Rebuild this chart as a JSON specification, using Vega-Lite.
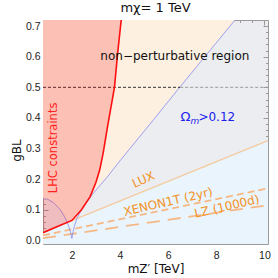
{
  "$schema": "https://vega.github.io/schema/vega-lite/v6.json",
  "width": 225,
  "height": 224,
  "autosize": {"type": "none"},
  "padding": {"left": 43, "top": 20, "right": 10, "bottom": 34},
  "background": "white",
  "title": {"text": "mχ= 1 TeV", "font": "DejaVu Sans", "fontSize": 13, "fontWeight": "normal", "color": "#111", "offset": 5, "anchor": "middle"},
  "config": {
    "view": {"stroke": "#9a9a9a", "fill": "#ebedf0"},
    "axis": {"grid": false, "labelFont": "Liberation Sans", "labelFontSize": 10.5, "labelColor": "#222", "titleFont": "DejaVu Sans", "titleFontSize": 12, "titleFontWeight": "normal", "titleColor": "#111", "tickColor": "#9a9a9a"}
  },
  "resolve": {"axis": {"x": "independent", "y": "independent"}},
  "datasets": {
    "omega": [
      {"x": 0.8, "y": 0.136}, {"x": 1.0, "y": 0.134}, {"x": 1.24, "y": 0.123}, {"x": 1.51, "y": 0.101},
      {"x": 1.72, "y": 0.074}, {"x": 1.86, "y": 0.048}, {"x": 1.95, "y": 0.025}, {"x": 2.0, "y": 0.006},
      {"x": 2.05, "y": 0.028}, {"x": 2.1, "y": 0.045}, {"x": 2.21, "y": 0.072}, {"x": 2.48, "y": 0.111},
      {"x": 2.9, "y": 0.155}, {"x": 3.45, "y": 0.205}, {"x": 4.0, "y": 0.26}, {"x": 5.39, "y": 0.394},
      {"x": 6.5, "y": 0.502}, {"x": 8.78, "y": 0.72}
    ],
    "lux": [{"x": 0.8, "y": 0.026}, {"x": 10.15, "y": 0.326}],
    "xenon": [{"x": 0.8, "y": 0.016}, {"x": 10.15, "y": 0.17}],
    "lz": [{"x": 0.8, "y": 0.007}, {"x": 10.15, "y": 0.115}],
    "lhc": [
      {"x": 0.8, "y": 0.025}, {"x": 1.4, "y": 0.045}, {"x": 2.0, "y": 0.065}, {"x": 2.4, "y": 0.1},
      {"x": 2.76, "y": 0.143}, {"x": 3.0, "y": 0.19}, {"x": 3.15, "y": 0.228}, {"x": 3.3, "y": 0.285},
      {"x": 3.5, "y": 0.38}, {"x": 3.77, "y": 0.5}, {"x": 3.9, "y": 0.61}, {"x": 4.05, "y": 0.72}
    ]
  },
  "layer": [
    {
      "data": {"name": "omega"},
      "mark": {"type": "area", "color": "#fdf0e1", "clip": true},
      "encoding": {
        "x": {"field": "x", "type": "quantitative", "scale": {"domain": [0.8, 10.15], "nice": false, "zero": false},
              "axis": {"orient": "bottom", "values": [2, 4, 6, 8, 10], "ticks": false, "domain": false, "labelPadding": 6, "title": "mZ′ [TeV]", "titlePadding": 3}},
        "y": {"field": "y", "type": "quantitative", "scale": {"domain": [-0.012, 0.72], "nice": false, "zero": false},
              "axis": {"orient": "left", "values": [0, 0.1, 0.2, 0.3, 0.4, 0.5, 0.6, 0.7], "format": ".1f", "ticks": false, "domain": false, "labelPadding": 3, "title": "gBL", "titlePadding": 2, "titleY": 130, "titleAlign": "center", "titleBaseline": "bottom"}},
        "y2": {"datum": 0.72}
      }
    },
    {
      "data": {"name": "lux"},
      "mark": {"type": "area", "color": "#eaf4fd", "clip": true},
      "encoding": {
        "x": {"field": "x", "type": "quantitative", "scale": {"domain": [0.8, 10.15], "nice": false, "zero": false},
              "axis": {"orient": "bottom", "values": [1, 1.5, 2, 2.5, 3, 3.5, 4, 4.5, 5, 5.5, 6, 6.5, 7, 7.5, 8, 8.5, 9, 9.5, 10], "labels": false, "domain": false, "title": null,
                       "tickSize": {"condition": {"test": "datum.value % 2 === 0", "value": -5}, "value": -2.5}}},
        "y": {"field": "y", "type": "quantitative", "scale": {"domain": [-0.012, 0.72], "nice": false, "zero": false},
              "axis": {"orient": "left", "values": [0, 0.02, 0.04, 0.06, 0.08, 0.1, 0.12, 0.14, 0.16, 0.18, 0.2, 0.22, 0.24, 0.26, 0.28, 0.3, 0.32, 0.34, 0.36, 0.38, 0.4, 0.42, 0.44, 0.46, 0.48, 0.5, 0.52, 0.54, 0.56, 0.58, 0.6, 0.62, 0.64, 0.66, 0.68, 0.7], "labels": false, "domain": false, "title": null,
                       "tickSize": {"condition": {"test": "abs(datum.value*10 - round(datum.value*10)) < 0.000001", "value": -5}, "value": -2.5}}},
        "y2": {"datum": -0.012}
      }
    },
    {
      "data": {"name": "lux"},
      "mark": {"type": "line", "color": "#f5c89a", "strokeWidth": 1.3, "clip": true},
      "encoding": {
        "x": {"field": "x", "type": "quantitative", "scale": {"domain": [0.8, 10.15], "nice": false, "zero": false},
              "axis": {"orient": "top", "values": [1, 1.5, 2, 2.5, 3, 3.5, 4, 4.5, 5, 5.5, 6, 6.5, 7, 7.5, 8, 8.5, 9, 9.5, 10], "labels": false, "domain": false, "title": null,
                       "tickSize": {"condition": {"test": "datum.value % 2 === 0", "value": -5}, "value": -2.5}}},
        "y": {"field": "y", "type": "quantitative", "scale": {"domain": [-0.012, 0.72], "nice": false, "zero": false},
              "axis": {"orient": "right", "values": [0, 0.02, 0.04, 0.06, 0.08, 0.1, 0.12, 0.14, 0.16, 0.18, 0.2, 0.22, 0.24, 0.26, 0.28, 0.3, 0.32, 0.34, 0.36, 0.38, 0.4, 0.42, 0.44, 0.46, 0.48, 0.5, 0.52, 0.54, 0.56, 0.58, 0.6, 0.62, 0.64, 0.66, 0.68, 0.7], "labels": false, "domain": false, "title": null,
                       "tickSize": {"condition": {"test": "abs(datum.value*10 - round(datum.value*10)) < 0.000001", "value": -5}, "value": -2.5}}}
      }
    },
    {
      "data": {"name": "xenon"},
      "mark": {"type": "line", "color": "#f5b884", "strokeWidth": 1.8, "strokeDash": [7, 4], "clip": true},
      "encoding": {
        "x": {"field": "x", "type": "quantitative", "scale": {"domain": [0.8, 10.15], "nice": false, "zero": false}, "axis": null},
        "y": {"field": "y", "type": "quantitative", "scale": {"domain": [-0.012, 0.72], "nice": false, "zero": false}, "axis": null}
      }
    },
    {
      "data": {"name": "lz"},
      "mark": {"type": "line", "color": "#f5b884", "strokeWidth": 1.8, "strokeDash": [13, 8], "clip": true},
      "encoding": {
        "x": {"field": "x", "type": "quantitative", "scale": {"domain": [0.8, 10.15], "nice": false, "zero": false}, "axis": null},
        "y": {"field": "y", "type": "quantitative", "scale": {"domain": [-0.012, 0.72], "nice": false, "zero": false}, "axis": null}
      }
    },
    {
      "data": {"name": "omega"},
      "mark": {"type": "line", "color": "#8a8af0", "strokeWidth": 0.8, "clip": true},
      "encoding": {
        "x": {"field": "x", "type": "quantitative", "scale": {"domain": [0.8, 10.15], "nice": false, "zero": false}, "axis": null},
        "y": {"field": "y", "type": "quantitative", "scale": {"domain": [-0.012, 0.72], "nice": false, "zero": false}, "axis": null}
      }
    },
    {
      "data": {"values": [{"x": 0.8, "x2": 6.5, "y": 0.5}]},
      "mark": {"type": "rule", "color": "#333333", "strokeWidth": 1, "strokeDash": [3, 2]},
      "encoding": {
        "x": {"field": "x", "type": "quantitative", "scale": {"domain": [0.8, 10.15], "nice": false, "zero": false}, "axis": null},
        "x2": {"field": "x2"},
        "y": {"field": "y", "type": "quantitative", "scale": {"domain": [-0.012, 0.72], "nice": false, "zero": false}, "axis": null}
      }
    },
    {
      "data": {"values": [{"x": 6.5, "x2": 10.15, "y": 0.5}]},
      "mark": {"type": "rule", "color": "#9a9a9a", "strokeWidth": 1, "strokeDash": [3, 2]},
      "encoding": {
        "x": {"field": "x", "type": "quantitative", "scale": {"domain": [0.8, 10.15], "nice": false, "zero": false}, "axis": null},
        "x2": {"field": "x2"},
        "y": {"field": "y", "type": "quantitative", "scale": {"domain": [-0.012, 0.72], "nice": false, "zero": false}, "axis": null}
      }
    },
    {
      "data": {"name": "lhc"},
      "mark": {"type": "area", "color": "#ff0000", "opacity": 0.2, "clip": true},
      "encoding": {
        "x": {"field": "x", "type": "quantitative", "scale": {"domain": [0.8, 10.15], "nice": false, "zero": false}, "axis": null},
        "y": {"field": "y", "type": "quantitative", "scale": {"domain": [-0.012, 0.72], "nice": false, "zero": false}, "axis": null},
        "y2": {"datum": 0.72}
      }
    },
    {
      "data": {"name": "lhc"},
      "mark": {"type": "line", "color": "#ff1010", "strokeWidth": 1.6, "clip": true},
      "encoding": {
        "x": {"field": "x", "type": "quantitative", "scale": {"domain": [0.8, 10.15], "nice": false, "zero": false}, "axis": null},
        "y": {"field": "y", "type": "quantitative", "scale": {"domain": [-0.012, 0.72], "nice": false, "zero": false}, "axis": null}
      }
    },
    {
      "data": {"values": [{"label": "non−perturbative region", "x": 6.28, "y": 0.602}]},
      "mark": {"type": "text", "font": "DejaVu Sans", "fontSize": 12, "color": "#111", "align": "center", "baseline": "middle"},
      "encoding": {
        "x": {"field": "x", "type": "quantitative", "scale": {"domain": [0.8, 10.15], "nice": false, "zero": false}, "axis": null},
        "y": {"field": "y", "type": "quantitative", "scale": {"domain": [-0.012, 0.72], "nice": false, "zero": false}, "axis": null},
        "text": {"field": "label"}
      }
    },
    {
      "data": {"values": [{"label": "LHC constraints", "x": 1.24, "y": 0.302}]},
      "mark": {"type": "text", "font": "DejaVu Sans", "fontSize": 11.5, "color": "#ff2020", "align": "center", "baseline": "middle", "angle": 270},
      "encoding": {
        "x": {"field": "x", "type": "quantitative", "scale": {"domain": [0.8, 10.15], "nice": false, "zero": false}, "axis": null},
        "y": {"field": "y", "type": "quantitative", "scale": {"domain": [-0.012, 0.72], "nice": false, "zero": false}, "axis": null},
        "text": {"field": "label"}
      }
    },
    {
      "data": {"values": [{"label": "LUX", "x": 4.97, "y": 0.198}]},
      "mark": {"type": "text", "font": "DejaVu Sans", "fontSize": 12, "color": "#f3921f", "align": "center", "baseline": "middle", "angle": -24},
      "encoding": {
        "x": {"field": "x", "type": "quantitative", "scale": {"domain": [0.8, 10.15], "nice": false, "zero": false}, "axis": null},
        "y": {"field": "y", "type": "quantitative", "scale": {"domain": [-0.012, 0.72], "nice": false, "zero": false}, "axis": null},
        "text": {"field": "label"}
      }
    },
    {
      "data": {"values": [{"label": "XENON1T (2yr)", "x": 6.0, "y": 0.126}]},
      "mark": {"type": "text", "font": "DejaVu Sans", "fontSize": 12, "color": "#f3921f", "align": "center", "baseline": "middle", "angle": -13},
      "encoding": {
        "x": {"field": "x", "type": "quantitative", "scale": {"domain": [0.8, 10.15], "nice": false, "zero": false}, "axis": null},
        "y": {"field": "y", "type": "quantitative", "scale": {"domain": [-0.012, 0.72], "nice": false, "zero": false}, "axis": null},
        "text": {"field": "label"}
      }
    },
    {
      "data": {"values": [{"label": "LZ (1000d)", "x": 8.44, "y": 0.111}]},
      "mark": {"type": "text", "font": "DejaVu Sans", "fontSize": 12, "color": "#f3921f", "align": "center", "baseline": "middle", "angle": -13},
      "encoding": {
        "x": {"field": "x", "type": "quantitative", "scale": {"domain": [0.8, 10.15], "nice": false, "zero": false}, "axis": null},
        "y": {"field": "y", "type": "quantitative", "scale": {"domain": [-0.012, 0.72], "nice": false, "zero": false}, "axis": null},
        "text": {"field": "label"}
      }
    },
    {
      "data": {"values": [{"label": "Ω", "x": 7.59, "y": 0.402}]},
      "mark": {"type": "text", "font": "DejaVu Sans", "fontSize": 13, "color": "#2020ee", "align": "left", "baseline": "middle", "dx": -26},
      "encoding": {
        "x": {"field": "x", "type": "quantitative", "scale": {"domain": [0.8, 10.15], "nice": false, "zero": false}, "axis": null},
        "y": {"field": "y", "type": "quantitative", "scale": {"domain": [-0.012, 0.72], "nice": false, "zero": false}, "axis": null},
        "text": {"field": "label"}
      }
    },
    {
      "data": {"values": [{"label": "m", "x": 7.59, "y": 0.402}]},
      "mark": {"type": "text", "font": "DejaVu Sans", "fontSize": 9, "fontStyle": "italic", "color": "#2020ee", "align": "left", "baseline": "middle", "dx": -16, "dy": 4},
      "encoding": {
        "x": {"field": "x", "type": "quantitative", "scale": {"domain": [0.8, 10.15], "nice": false, "zero": false}, "axis": null},
        "y": {"field": "y", "type": "quantitative", "scale": {"domain": [-0.012, 0.72], "nice": false, "zero": false}, "axis": null},
        "text": {"field": "label"}
      }
    },
    {
      "data": {"values": [{"label": ">0.12", "x": 7.59, "y": 0.402}]},
      "mark": {"type": "text", "font": "DejaVu Sans", "fontSize": 12, "color": "#2020ee", "align": "left", "baseline": "middle", "dx": -8},
      "encoding": {
        "x": {"field": "x", "type": "quantitative", "scale": {"domain": [0.8, 10.15], "nice": false, "zero": false}, "axis": null},
        "y": {"field": "y", "type": "quantitative", "scale": {"domain": [-0.012, 0.72], "nice": false, "zero": false}, "axis": null},
        "text": {"field": "label"}
      }
    }
  ]
}
